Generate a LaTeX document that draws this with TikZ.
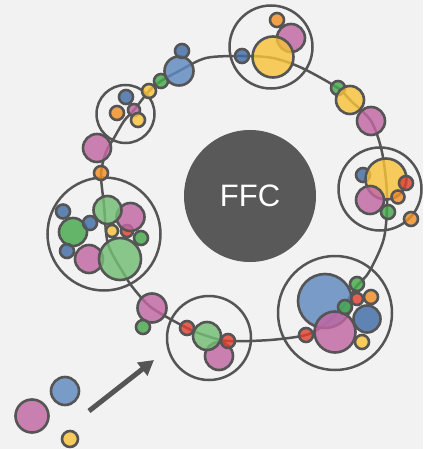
\documentclass[tikz,border=0pt]{standalone}
\usepackage{fontspec}
\setmainfont{Liberation Sans}
\usetikzlibrary{arrows.meta}
\definecolor{bg}{HTML}{F2F2F2}
\definecolor{cstroke}{HTML}{555555}
\definecolor{cffc}{HTML}{595959}
\definecolor{cblue}{HTML}{3F6CA6}
\definecolor{cbluel}{HTML}{5F88BE}
\definecolor{corange}{HTML}{EF8F25}
\definecolor{cred}{HTML}{E0402F}
\definecolor{cgreen}{HTML}{45A84B}
\definecolor{cgreenl}{HTML}{72BD74}
\definecolor{cyellow}{HTML}{F8C23A}
\definecolor{cpink}{HTML}{C266A3}
\tikzset{
  bub/.style={circle, draw=cstroke, line width=2.6pt, fill=#1, fill opacity=0.82, inner sep=0pt},
  ring/.style={circle, draw=cstroke, line width=2.5pt, inner sep=0pt},
  orbit/.style={draw=cstroke, line width=2.5pt},
  bigarrow/.style={draw=cstroke, line width=5pt, -{Triangle[length=15pt,width=16pt]}}
}
\begin{document}
\begin{tikzpicture}[x=1pt,y=-1pt]
\fill[bg] (0,0) rectangle (423,449);
\useasboundingbox (0,0) rectangle (423,449);
% centre
\node[circle, fill=cffc, minimum size=132pt, inner sep=0pt, text=white, font=\fontsize{31}{31}\selectfont] (ffc) at (250,196) {FFC};
% orbit
\draw[orbit] plot[smooth cycle, tension=0.5] coordinates {(206,58) (242,56) (273,58) (302,68) (338,88) (350,100) (371,121) (382,152) (387,195) (384,238) (369,272) (356,287) (343,307) (324,325) (306,335) (270,340) (228,341) (207,336) (187,328) (152,308) (134,289) (124,274) (108,244) (104,205) (101,174) (106,152) (114,138) (124,121) (134,110) (149,91) (161,81) (179,71)};
% cluster rings
\node[ring, minimum size=83pt] (rtop) at (271,47) {};
\node[ring, minimum size=83pt] (rright) at (380,189) {};
\node[ring, minimum size=114pt] (rbr) at (335,313) {};
\node[ring, minimum size=84pt] (rbot) at (209,338) {};
\node[ring, minimum size=113pt] (rleft) at (104,234) {};
\node[ring, minimum size=58pt] (rsmall) at (125.5,114) {};
% top cluster
\node[bub=cpink, minimum size=28pt] (t1) at (291,38) {};
\node[bub=cyellow, minimum size=41pt] (t2) at (273,57) {};
\node[bub=corange, minimum size=14pt] (t3) at (277,20) {};
\node[bub=cblue, minimum size=14pt] (t4) at (242,56) {};
% right orbit
\node[bub=cgreen, minimum size=14pt] (o1) at (338,88) {};
\node[bub=cyellow, minimum size=28pt] (o2) at (350,100) {};
\node[bub=cpink, minimum size=28pt] (o3) at (371,121) {};
% right cluster
\node[bub=cblue, minimum size=14pt] (r1) at (363,175) {};
\node[bub=cyellow, minimum size=41pt] (r2) at (386,179) {};
\node[bub=cred, minimum size=14pt] (r3) at (406,183) {};
\node[bub=corange, minimum size=13pt] (r4) at (398,197) {};
\node[bub=cpink, minimum size=28pt] (r5) at (370,200) {};
\node[bub=cgreen, minimum size=14pt] (r6) at (388,212) {};
\node[bub=corange, minimum size=14pt] (r7) at (411,219) {};
% bottom right cluster
\node[bub=cbluel, minimum size=54pt] (b1) at (325,301) {};
\node[bub=cpink, minimum size=41pt] (b2) at (335,332) {};
\node[bub=cblue, minimum size=27pt] (b3) at (367,319) {};
\node[bub=cred, minimum size=12pt] (b4) at (357,299) {};
\node[bub=corange, minimum size=14pt] (b5) at (371,297) {};
\node[bub=cgreen, minimum size=14pt] (b6) at (357,284) {};
\node[bub=cgreen, minimum size=14pt] (b7) at (345,307) {};
\node[bub=cred, minimum size=14pt] (b8) at (306,335) {};
\node[bub=cyellow, minimum size=14pt] (b9) at (362,342) {};
% bottom cluster
\node[bub=cpink, minimum size=28pt] (m1) at (219,356) {};
\node[bub=cgreenl, minimum size=28pt] (m2) at (207,336) {};
\node[bub=cred, minimum size=14pt] (m3) at (187,328) {};
\node[bub=cred, minimum size=14pt] (m4) at (228,341) {};
% left orbit
\node[bub=cpink, minimum size=29pt] (l1) at (152,308) {};
\node[bub=cgreen, minimum size=14pt] (l2) at (143,327) {};
% left cluster
\node[bub=cred, minimum size=12pt] (c1) at (127,231) {};
\node[bub=cpink, minimum size=28pt] (c2) at (130.5,217) {};
\node[bub=cgreenl, minimum size=28pt] (c3) at (107.5,210) {};
\node[bub=cblue, minimum size=14pt] (c4) at (63,211.5) {};
\node[bub=cgreen, minimum size=28pt] (c5) at (73,232) {};
\node[bub=cblue, minimum size=14pt] (c6) at (90,223) {};
\node[bub=cyellow, minimum size=12pt] (c7) at (112,231) {};
\node[bub=cgreen, minimum size=14pt] (c8) at (141,238) {};
\node[bub=cblue, minimum size=14pt] (c9) at (67,251) {};
\node[bub=cpink, minimum size=28pt] (c10) at (89,259) {};
\node[bub=cgreenl, minimum size=42pt] (c11) at (120,259) {};
% upper left
\node[bub=corange, minimum size=14pt] (u1) at (101,173) {};
\node[bub=cpink, minimum size=28pt] (u2) at (97,148) {};
\node[bub=cblue, minimum size=14pt] (s1) at (126,97) {};
\node[bub=corange, minimum size=14pt] (s2) at (117,113) {};
\node[bub=cpink, minimum size=12pt] (s3) at (134,110) {};
\node[bub=cyellow, minimum size=14pt] (s4) at (138,120) {};
\node[bub=cyellow, minimum size=14pt] (u3) at (149,91) {};
\node[bub=cgreen, minimum size=14pt] (u4) at (161,81) {};
\node[bub=cbluel, minimum size=29pt] (u5) at (179,71) {};
\node[bub=cblue, minimum size=14pt] (u6) at (182,51) {};
% legend
\node[bub=cpink, minimum size=33pt] (g1) at (32,416) {};
\node[bub=cbluel, minimum size=28pt] (g2) at (65,391) {};
\node[bub=cyellow, minimum size=16pt] (g3) at (70,439) {};
% arrow
\coordinate (a0) at (89,411);
\coordinate (a1) at (154,360);
\draw[bigarrow] (a0) -- (a1);
\end{tikzpicture}
\end{document}
